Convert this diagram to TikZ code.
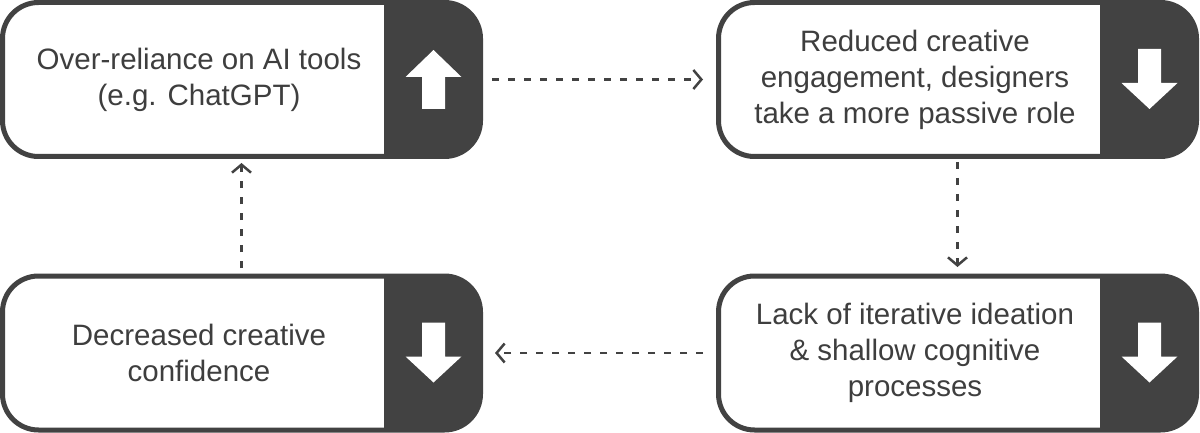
\documentclass[tikz,border=0pt]{standalone}
\usepackage{fontspec}
\setmainfont{Liberation Sans}
\usetikzlibrary{arrows.meta}
\definecolor{dark}{HTML}{424242}
\definecolor{txt}{HTML}{3E3E3E}
\begin{document}
\begin{tikzpicture}[x=1pt,y=-1pt,
  box/.style={draw=dark, line width=5pt, rounded corners=36pt, fill=white,
    minimum width=478pt, minimum height=154pt, inner sep=0pt,
    path picture={\fill[dark, sharp corners] ([xshift=-96.5pt]path picture bounding box.north east) rectangle (path picture bounding box.south east);}},
  boxtext/.style={text=txt, align=center, font=\fontsize{29.5}{36}\selectfont, inner sep=0pt},
  conn/.style={draw=dark, line width=2.5pt, dash pattern=on 7pt off 9pt,
    -{Straight Barb[length=8pt,width=19pt,line width=2.5pt]}},
  uparr/.pic={\fill[white] (0,-29.5) -- (28,-2.5) -- (11.5,-2.5) -- (11.5,29.5) -- (-11.5,29.5) -- (-11.5,-2.5) -- (-28,-2.5) -- cycle;},
  downarr/.pic={\fill[white] (0,29.5) -- (28,3.5) -- (11.5,3.5) -- (11.5,-30.5) -- (-11.5,-30.5) -- (-11.5,3.5) -- (-28,3.5) -- cycle;}
]
\useasboundingbox (0,0) rectangle (1200,433);

\node[box] (b1) at (241.5,79.5) {};
\node[box] (b2) at (957.5,79.5) {};
\node[box] (b3) at (241.5,353) {};
\node[box] (b4) at (957.5,353) {};

\pic at (433.5,79.5) {uparr};
\pic at (1149.5,79.5) {downarr};
\pic at (433.5,353) {downarr};
\pic at (1149.5,353) {downarr};

\node[boxtext] (t1) at (199,79.5) {Over-reliance on AI tools\\(e.g. ChatGPT)};
\node[boxtext] (t2) at (915,79.5) {Reduced creative\\engagement, designers\\take a more passive role};
\node[boxtext] (t3) at (199,353) {Decreased creative\\confidence};
\node[boxtext] (t4) at (915,353) {Lack of iterative ideation\\\& shallow cognitive\\processes};

\draw[conn, shorten <=9pt, shorten >=13pt] (b1.east) -- (b2.west);
\draw[conn, shorten <=3pt, shorten >=6.5pt] (b2.south) -- (b4.north);
\draw[conn, shorten <=13pt, shorten >=12pt] (b4.west) -- (b3.east);
\draw[conn, shorten <=5.5pt, shorten >=4pt] (b3.north) -- (b1.south);
\end{tikzpicture}
\end{document}
